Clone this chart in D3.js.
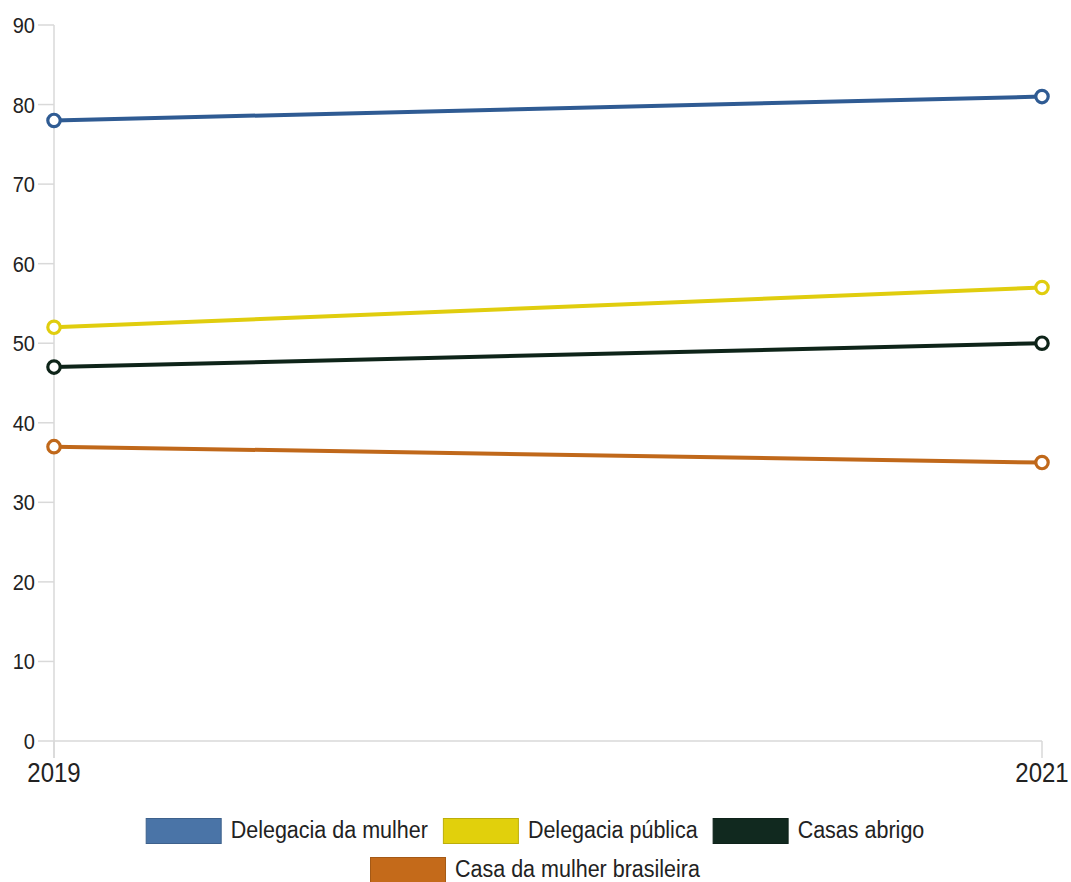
<!DOCTYPE html>
<html>
<head>
<meta charset="utf-8">
<script src="https://cdn.jsdelivr.net/npm/d3@7"></script>
<style>
  html, body { margin: 0; padding: 0; background: #fff; }
  svg { display: block; font-family: "Liberation Sans", Arial, sans-serif; }
</style>
</head>
<body>
<svg id="chart" width="1071" height="882"></svg>
<script>
// ---- data ----
const years = ["2019", "2021"];
const seriesNames = ["Delegacia da mulher", "Delegacia pública", "Casas abrigo", "Casa da mulher brasileira"];
const delegaciaMulher = [78, 81];
const delegaciaPublica = [52, 57];
const casasAbrigo = [47, 50];
const casaMulherBrasileira = [37, 35];
const yTicks = [0, 10, 20, 30, 40, 50, 60, 70, 80, 90];
const lineColors = ["#2f5b93", "#e0cd0e", "#0e2419", "#c0681a"];
const swatchColors = ["#4a74a7", "#e1d00c", "#11291f", "#c46a1a"];

const seriesValues = [delegaciaMulher, delegaciaPublica, casasAbrigo, casaMulherBrasileira];

const svg = d3.select("#chart");
const SY = 1.13; // vertical text stretch seen in the reference

const x = d3.scalePoint().domain(years).range([54, 1042]);
const y = d3.scaleLinear().domain([0, 90]).range([741, 25]);

const axisColor = "#d9d9d9";
const textColor = "#222";

// y axis line
svg.append("line")
  .attr("x1", 54).attr("x2", 54)
  .attr("y1", y(90)).attr("y2", 758)
  .attr("stroke", axisColor).attr("stroke-width", 1.5);
// x baseline
svg.append("line")
  .attr("x1", x(years[0])).attr("x2", x(years[1]))
  .attr("y1", y(0)).attr("y2", y(0))
  .attr("stroke", axisColor).attr("stroke-width", 1.5);

// y ticks + labels
const yt = svg.append("g");
yTicks.forEach(t => {
  yt.append("line")
    .attr("x1", 38).attr("x2", 54)
    .attr("y1", y(t)).attr("y2", y(t))
    .attr("stroke", axisColor).attr("stroke-width", 1.5);
  yt.append("text")
    .attr("transform", `translate(35,${y(t) + 8}) scale(1,${SY})`)
    .attr("text-anchor", "end")
    .attr("font-size", 20)
    .attr("fill", textColor)
    .text(t);
});

// x ticks + labels
years.forEach(yr => {
  svg.append("line")
    .attr("x1", x(yr)).attr("x2", x(yr))
    .attr("y1", y(0)).attr("y2", 758)
    .attr("stroke", axisColor).attr("stroke-width", 1.5);
  svg.append("text")
    .attr("transform", `translate(${x(yr)},782) scale(1,${SY})`)
    .attr("text-anchor", "middle")
    .attr("font-size", 24)
    .attr("fill", textColor)
    .text(yr);
});

// lines
const line = d3.line().x((d, i) => x(years[i])).y(d => y(d));
seriesValues.forEach((vals, si) => {
  svg.append("path")
    .datum(vals)
    .attr("d", line)
    .attr("fill", "none")
    .attr("stroke", lineColors[si])
    .attr("stroke-width", 4);
});
seriesValues.forEach((vals, si) => {
  svg.append("g").selectAll("circle")
    .data(vals)
    .join("circle")
    .attr("cx", (d, i) => x(years[i]))
    .attr("cy", d => y(d))
    .attr("r", 6.2)
    .attr("fill", "#fff")
    .attr("stroke", lineColors[si])
    .attr("stroke-width", 3.2);
});

// legend
const legendRows = [[0, 1, 2], [3]];
const rowY = [818, 857];
const swW = 76, swH = 26, gapText = 9, itemGap = 15, centerX = 535;
const lg = svg.append("g");
legendRows.forEach((row, ri) => {
  const items = row.map(si => {
    const t = lg.append("text")
      .attr("font-size", 21.5)
      .attr("fill", textColor)
      .text(seriesNames[si]);
    const w = t.node().getComputedTextLength();
    return { si, t, w };
  });
  const total = items.reduce((s, it) => s + swW + gapText + it.w, 0) + itemGap * (items.length - 1);
  let cx = centerX - total / 2;
  items.forEach(it => {
    lg.append("rect")
      .attr("x", cx + 0.5).attr("y", rowY[ri] + 0.5)
      .attr("width", swW - 1).attr("height", swH - 1)
      .attr("fill", swatchColors[it.si])
      .attr("stroke", d3.color(swatchColors[it.si]).darker(0.5))
      .attr("stroke-width", 1);
    it.t.attr("transform", `translate(${cx + swW + gapText},${rowY[ri] + 20}) scale(1,${SY})`);
    cx += swW + gapText + it.w + itemGap;
  });
});
</script>
</body>
</html>
